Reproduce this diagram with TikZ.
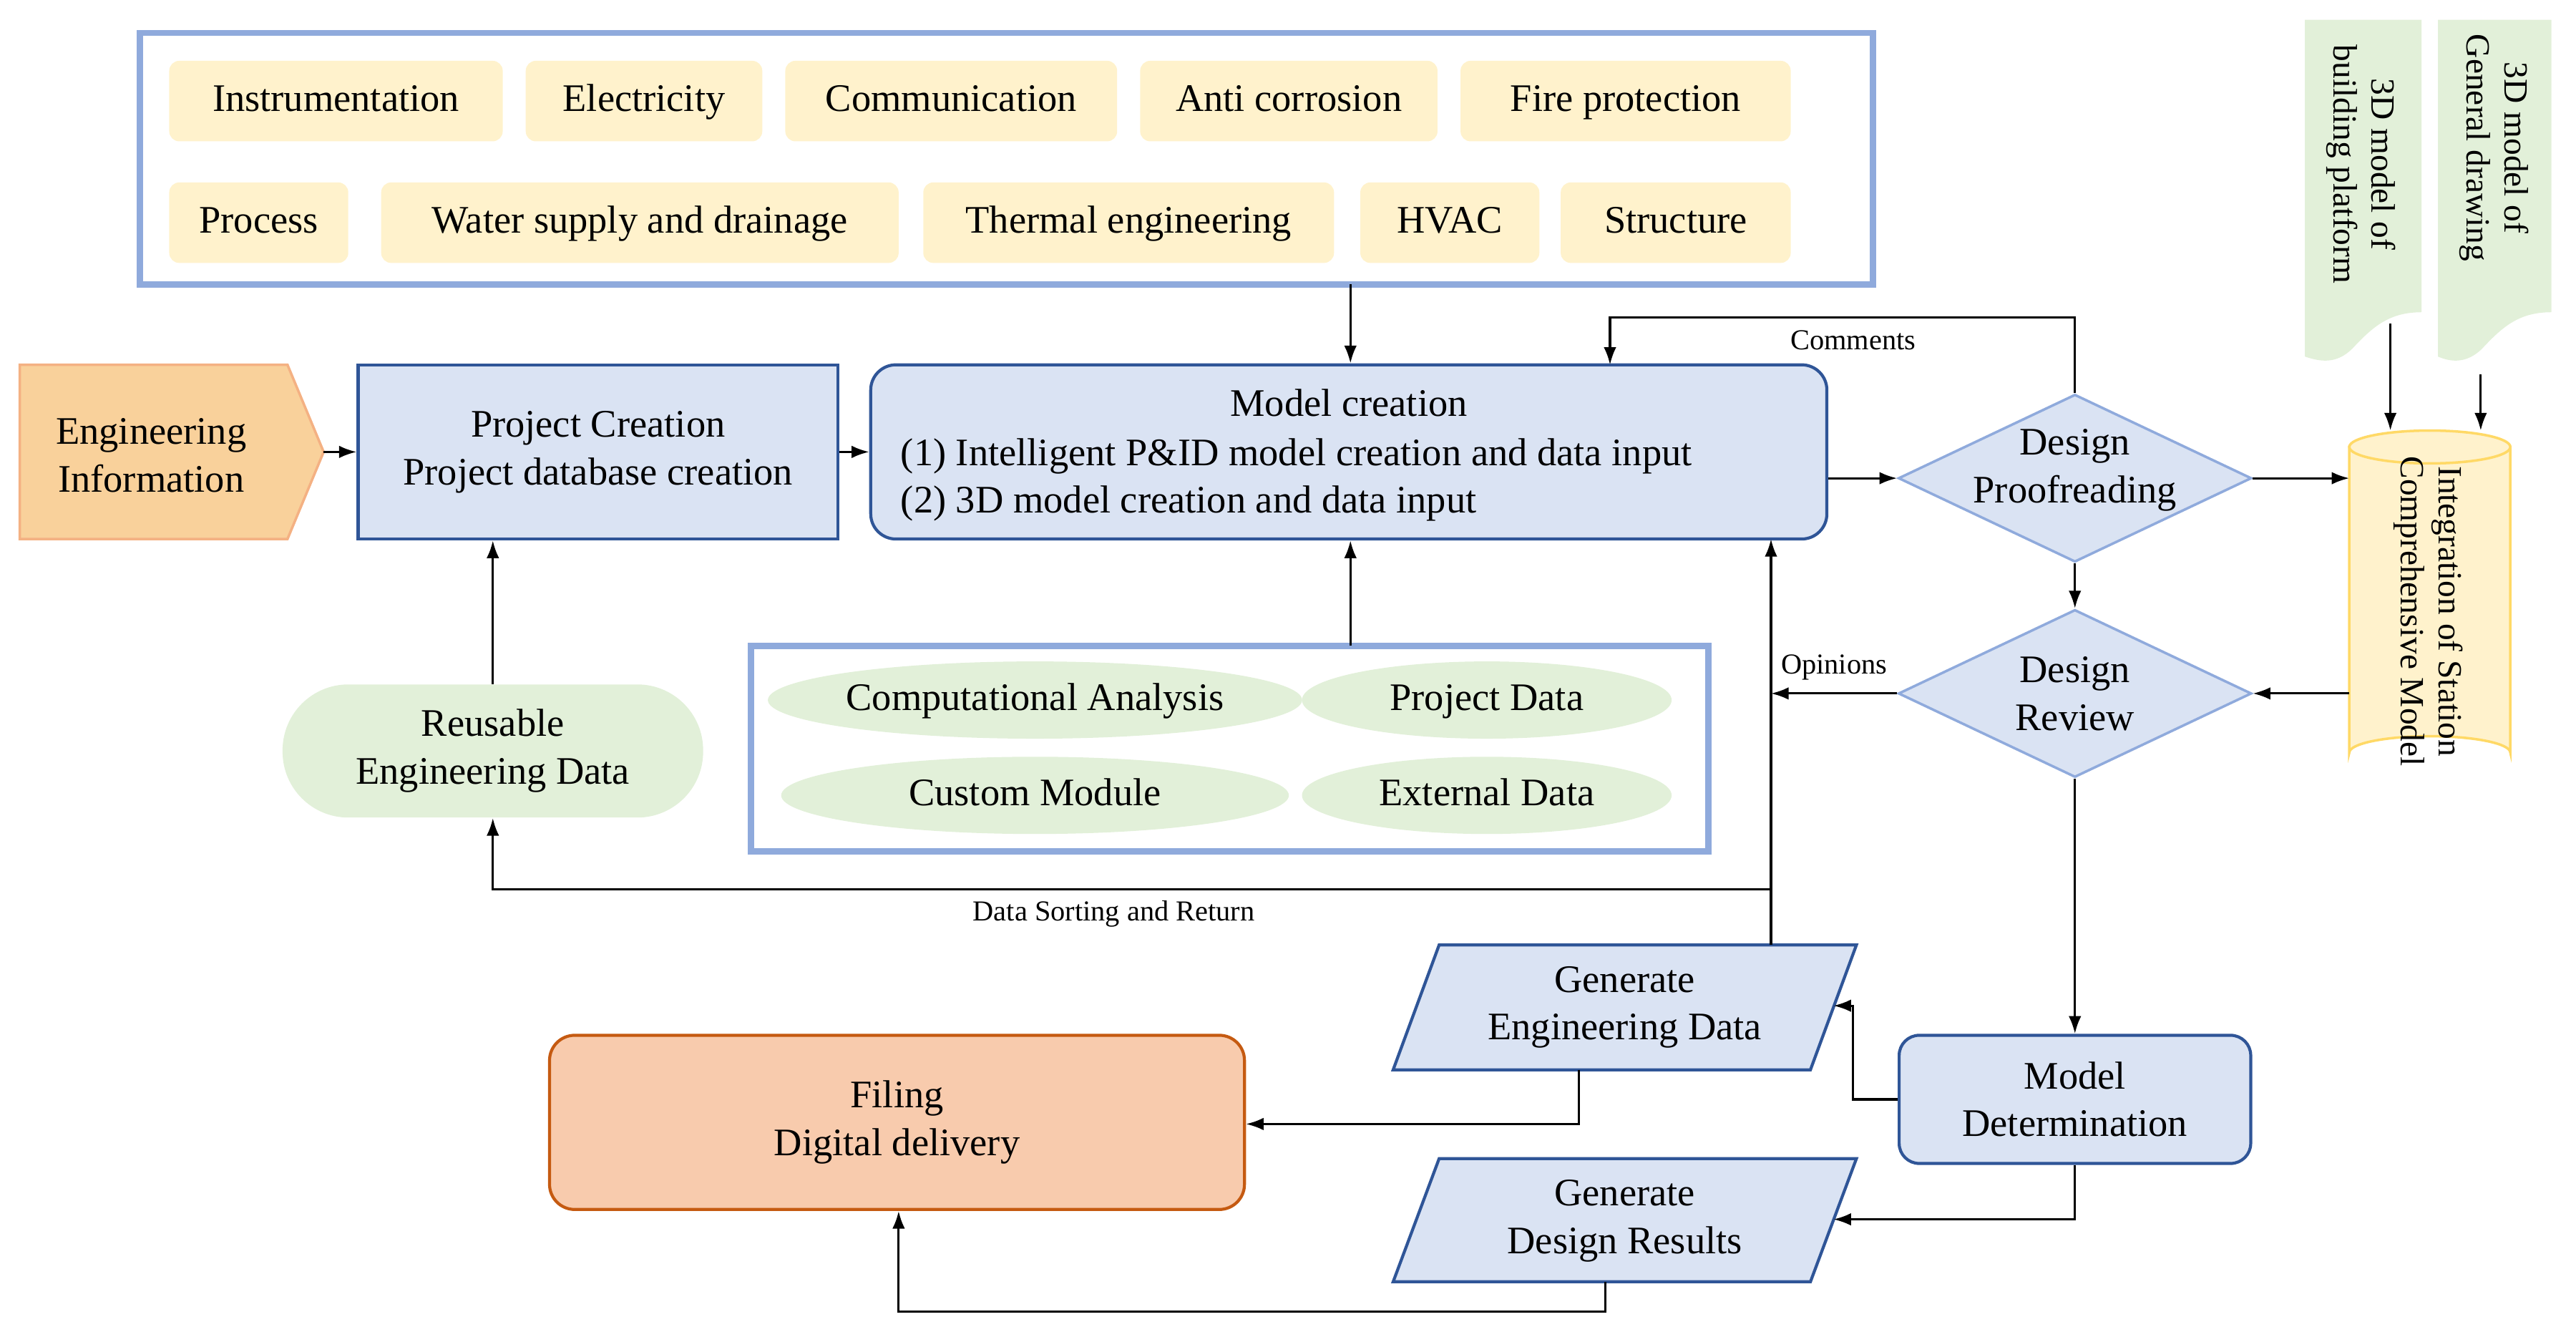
\documentclass[tikz,border=0pt]{standalone}
\usepackage{fontspec}
\setmainfont{Liberation Serif}
\usetikzlibrary{shapes.geometric,arrows.meta}
\definecolor{bfill}{HTML}{DAE3F3}
\definecolor{bdark}{HTML}{2F5597}
\definecolor{blite}{HTML}{8FAADC}
\definecolor{yfill}{HTML}{FFF2CC}
\definecolor{ydark}{HTML}{FFD966}
\definecolor{gfill}{HTML}{E2F0D9}
\definecolor{ofill}{HTML}{F9D19B}
\definecolor{oline}{HTML}{F4B183}
\definecolor{ffill}{HTML}{F8CBAD}
\definecolor{fline}{HTML}{C55A11}
\begin{document}
\begin{tikzpicture}[x=0.02296cm,y=-0.02296cm,
  every node/.style={font=\fontsize{15.5}{19}\selectfont, align=center, inner sep=0},
  tag/.style={fill=yfill, rounded corners=4pt},
  ell/.style={fill=gfill, ellipse, text height=11pt, text depth=3pt},
  bbox/.style={fill=bfill, draw=bdark, line width=1.2pt},
  dia/.style={fill=bfill, draw=blite, line width=1pt},
  frame/.style={draw=blite, line width=2.5pt},
  arr/.style={-{Latex[length=7pt,width=5pt]}, line width=0.9pt},
  lbl/.style={font=\fontsize{11.5}{14}\selectfont},
  small/.style={font=\fontsize{13.5}{15}\selectfont}]
\useasboundingbox (0,0) rectangle (1568,810.5);
% top container
\draw[frame] (85,20) rectangle (1140,173);
\foreach \a/\b/\t in {103/306/Instrumentation,320/464/Electricity,478/680/Communication,694/875/Anti corrosion,889/1090/Fire protection}
  \path[tag] (\a,37) rectangle (\b,86) node[midway, text height=11pt, text depth=3pt] (t\a) {\t};
\foreach \a/\b/\t in {103/212/Process,232/547/Water supply and drainage,562/812/Thermal engineering,828/937/HVAC,950/1090/Structure}
  \path[tag] (\a,111) rectangle (\b,160) node[midway, text height=11pt, text depth=3pt] (s\a) {\t};
% engineering information pentagon
\draw[fill=ofill, draw=oline, line width=1pt] (12,222) -- (175,222) -- (197,275) -- (175,328) -- (12,328) -- cycle;
\node (ei) at (92,277) {Engineering\\Information};
\coordinate (eir) at (197,275);
% project creation
\node[bbox, minimum width=292*0.02296cm, minimum height=106*0.02296cm] (pc) at (364,275) {Project Creation\\Project database creation};
% model creation
\node[bbox, rounded corners=10pt, minimum width=582*0.02296cm, minimum height=106*0.02296cm] (mc) at (821,275) {};
\node (mch) at (821,245) {Model creation};
\node[align=left, anchor=west] (mct) at (548,292) {(1) Intelligent P\&ID model creation and data input\\(2) 3D model creation and data input};
% diamonds
\node[dia, diamond, aspect=2.1, minimum width=215*0.02296cm, minimum height=102*0.02296cm] (dp) at (1263,291) {};
\node (dpt) at (1263,286) {Design\\Proofreading};
\node[dia, diamond, aspect=2.1, minimum width=215*0.02296cm, minimum height=102*0.02296cm] (dr) at (1263,422) {};
\node (drt) at (1263,422) {Design\\Review};
% cylinder
\draw[fill=yfill, draw=ydark, line width=1pt] (1430,272) -- (1430,458) arc[start angle=180,end angle=360,x radius=49,y radius=10] -- (1528,272) -- cycle;
\draw[fill=yfill, draw=ydark, line width=1pt] (1479,272) ellipse[x radius=49, y radius=10];
\node[rotate=-90, small] (cyl) at (1478,372) {Integration of Station\\Comprehensive Model};
% green documents
\fill[gfill] (1403,12) -- (1474,12) -- (1474,190) .. controls (1455,190) and (1445,198) .. (1432,212) .. controls (1422,222) and (1412,220) .. (1403,217) -- cycle;
\node[rotate=-90, small] (d1) at (1437,100) {3D model of\\building platform};
\fill[gfill] (1484,12) -- (1553,12) -- (1553,190) .. controls (1534,190) and (1524,198) .. (1511,212) .. controls (1501,222) and (1491,220) .. (1484,217) -- cycle;
\node[rotate=-90, small] (d2) at (1518,90) {3D model of\\General drawing};
\coordinate (d1b) at (1455,197); \coordinate (d2b) at (1510,228);
\coordinate (cy1) at (1455,262); \coordinate (cy2) at (1510,262);
% bottom container
\draw[frame] (457,393) rectangle (1040,518);
\node[ell, minimum width=309*0.02296cm, minimum height=47*0.02296cm] (ca) at (630,426) {Computational Analysis};
\node[ell, minimum width=225*0.02296cm, minimum height=47*0.02296cm] (pd) at (905,426) {Project Data};
\node[ell, minimum width=309*0.02296cm, minimum height=47*0.02296cm] (cm) at (630,484) {Custom Module};
\node[ell, minimum width=225*0.02296cm, minimum height=47*0.02296cm] (ed) at (905,484) {External Data};
% reusable
\node[fill=gfill, rounded corners=40*0.02296cm, minimum width=256*0.02296cm, minimum height=81*0.02296cm] (re) at (300,457) {Reusable\\Engineering Data};
% model determination
\node[bbox, rounded corners=8pt, minimum width=214*0.02296cm, minimum height=78*0.02296cm] (md) at (1263,669) {Model\\Determination};
% filing
\node[fill=ffill, draw=fline, line width=1.2pt, rounded corners=10pt, minimum width=423*0.02296cm, minimum height=106*0.02296cm] (fi) at (546,683) {Filing\\Digital delivery};
% parallelograms
\draw[bbox] (876,575) -- (1130,575) -- (1102,651) -- (848,651) -- cycle;
\node (ge) at (989,613) {Generate\\Engineering Data};
\draw[bbox] (876,705) -- (1130,705) -- (1102,780) -- (848,780) -- cycle;
\node (gd) at (989,743) {Generate\\Design Results};
\coordinate (get) at (1078,575); \coordinate (ger) at (1116,612);
\coordinate (geb) at (961,651); \coordinate (gdr) at (1116,742); \coordinate (gdb) at (977,780);
\coordinate (bct) at (822,393); \coordinate (tct) at (822,173);
% connectors
\draw[arr] (tct) -- (tct |- mc.north);
\draw[arr] (eir) -- (pc.west);
\draw[arr] (pc.east) -- (mc.west);
\draw[arr] (mc.east |- dp) -- (dp.west);
\draw[arr] (dp.east) -- (1430,291);
\draw[arr] (dp.south) -- (dr.north);
\draw[arr] (1430,422) -- (dr.east);
\draw[arr] (dr.west) -- (1078,422) node[lbl, pos=0.5, above=5pt] {Opinions};
\draw[arr] (dp.north) -- (1263,193) -- (980,193) -- (980,222);
\node[lbl] (cmt) at (1128,207) {Comments};
\draw[arr] (d1b) -- (cy1);
\draw[arr] (d2b) -- (cy2);
\draw[arr] (bct) -- (bct |- mc.south);
\draw[arr] (re.north) -- (re.north |- pc.south);
\draw[arr] (get) -- (1078,328);
\draw[arr] (1078,541) -- (300,541) -- (re.south);
\node[lbl] (dsr) at (678,556) {Data Sorting and Return};
\draw[arr] (dr.south) -- (md.north);
\draw[arr] (md.west) -- (1128,669) -- (1128,612) -- (ger);
\draw[arr] (geb) -- (961,684) -- (fi.east |- 0,684);
\draw[arr] (md.south) -- (1263,742) -- (gdr);
\draw[arr] (gdb) -- (977,798) -- (547,798) -- (fi.south -| 547,0);
\end{tikzpicture}
\end{document}
